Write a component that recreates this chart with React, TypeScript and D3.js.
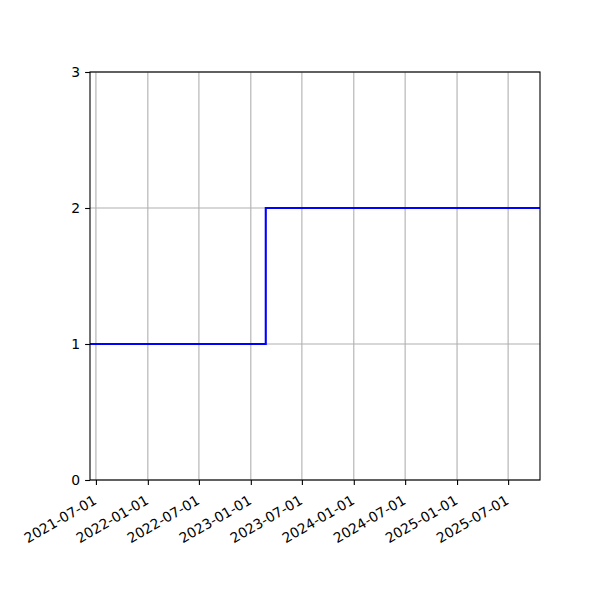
import { useEffect, useRef } from "react";
import * as d3 from "d3";

// step data (value holds until the next date)
const dates = ["2021-06-10", "2023-02-23", "2025-10-22"];
const values = [1, 2, 2];
const xTicks = [
  "2021-07-01", "2022-01-01", "2022-07-01", "2023-01-01", "2023-07-01",
  "2024-01-01", "2024-07-01", "2025-01-01", "2025-07-01",
];
const yTicks = [0, 1, 2, 3];

const parse = d3.timeParse("%Y-%m-%d");

export default function App() {
  const svgRef = useRef<SVGSVGElement>(null);

  useEffect(() => {
    if (!svgRef.current) return;
    const svg = d3.select(svgRef.current);
    svg.selectAll("*").remove();

    const margin = { top: 72, right: 60, bottom: 120, left: 90 };
    const width = 600 - margin.left - margin.right;
    const height = 600 - margin.top - margin.bottom;

    const g = svg
      .append("g")
      .attr("transform", `translate(${margin.left},${margin.top})`);

    const data = dates.map((d, i) => ({ date: parse(d) as Date, value: values[i] }));

    const x = d3
      .scaleTime()
      .domain([data[0].date, data[data.length - 1].date])
      .range([0, width]);
    const y = d3.scaleLinear().domain([0, 3]).range([height, 0]);

    const tickDates = xTicks.map((t) => parse(t) as Date);
    const font = "'DejaVu Sans', sans-serif";

    // grid
    g.append("g")
      .selectAll("line")
      .data(tickDates)
      .join("line")
      .attr("x1", (d) => x(d))
      .attr("x2", (d) => x(d))
      .attr("y1", 0)
      .attr("y2", height)
      .attr("stroke", "#b0b0b0")
      .attr("stroke-width", 1.1);
    g.append("g")
      .selectAll("line")
      .data(yTicks)
      .join("line")
      .attr("x1", 0)
      .attr("x2", width)
      .attr("y1", (d) => y(d))
      .attr("y2", (d) => y(d))
      .attr("stroke", "#b0b0b0")
      .attr("stroke-width", 1.1);

    // line
    const line = d3
      .line<{ date: Date; value: number }>()
      .curve(d3.curveStepAfter)
      .x((d) => x(d.date))
      .y((d) => y(d.value));
    g.append("path")
      .datum(data)
      .attr("fill", "none")
      .attr("stroke", "#0000ff")
      .attr("stroke-width", 2.1)
      .attr("d", line);

    // x axis, labels rotated 30deg with their top-right corner under the tick
    const xAxis = g
      .append("g")
      .attr("transform", `translate(0,${height})`)
      .call(
        d3
          .axisBottom(x)
          .tickValues(tickDates)
          .tickSize(4.9)
          .tickFormat((d) => d3.timeFormat("%Y-%m-%d")(d as Date)),
      );
    xAxis.select(".domain").remove();
    xAxis.selectAll(".tick line").attr("stroke", "#000").attr("stroke-width", 1.1);
    xAxis
      .selectAll("text")
      .attr("font-family", font)
      .attr("font-size", 13.9)
      .attr("fill", "#000")
      .attr("x", 0)
      .attr("y", 0)
      .attr("dy", "0.76em")
      .attr("transform", "translate(-4,14) rotate(-30)")
      .style("text-anchor", "end");

    // y axis
    const yAxis = g
      .append("g")
      .call(d3.axisLeft(y).tickValues(yTicks).tickSize(4.9).tickPadding(4.9).tickFormat(d3.format("d")));
    yAxis.select(".domain").remove();
    yAxis.selectAll(".tick line").attr("stroke", "#000").attr("stroke-width", 1.1);
    yAxis
      .selectAll("text")
      .attr("font-family", font)
      .attr("font-size", 13.9)
      .attr("fill", "#000");

    // frame
    g.append("rect")
      .attr("width", width)
      .attr("height", height)
      .attr("fill", "none")
      .attr("stroke", "#000")
      .attr("stroke-width", 1.1);
  }, []);

  return <svg ref={svgRef} width={600} height={600} style={{ display: "block", margin: -8 }} />;
}
